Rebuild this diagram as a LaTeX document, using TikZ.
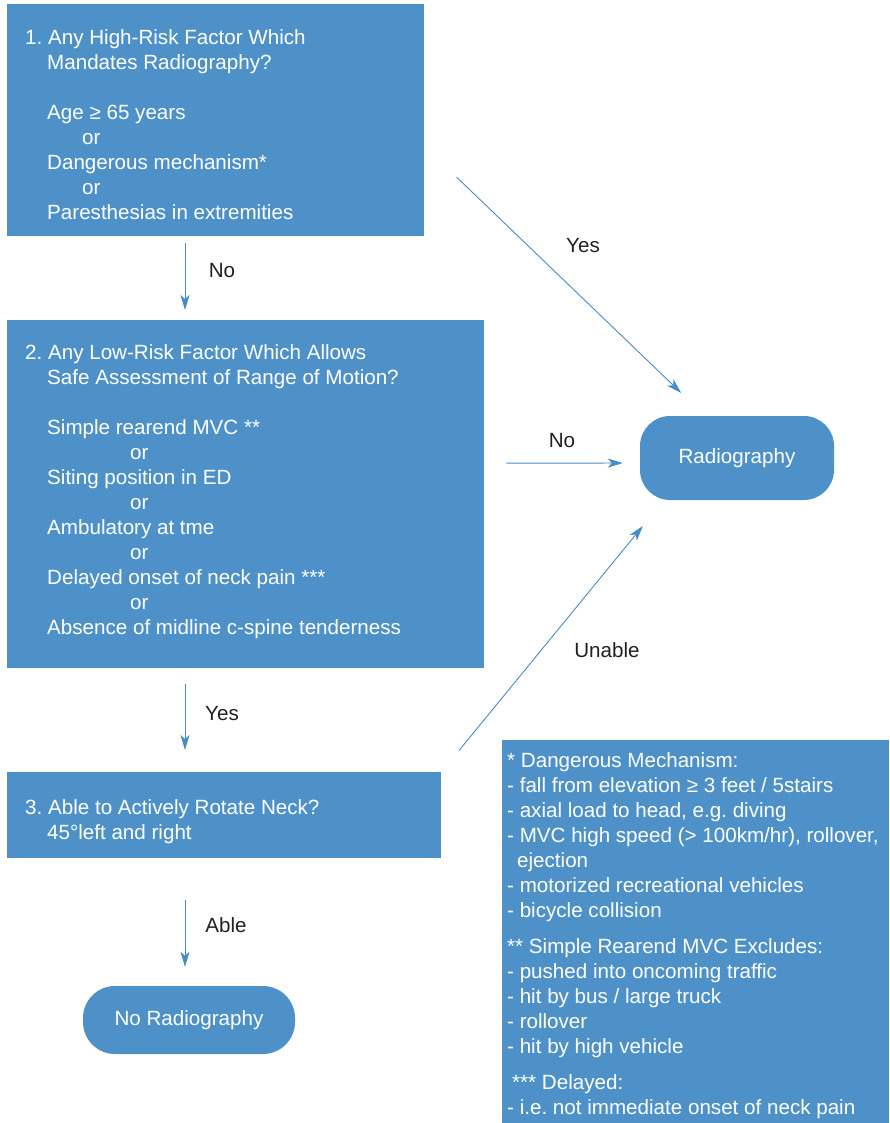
\documentclass[tikz,border=0pt]{standalone}
\usepackage{fontspec}
\setmainfont{Liberation Sans}
\usetikzlibrary{arrows.meta}
\definecolor{boxblue}{RGB}{78,145,200}
\definecolor{lineblue}{RGB}{72,140,198}
\definecolor{labelgray}{RGB}{35,31,32}
\newcommand\diagfont{\fontsize{20.6}{25}\selectfont\frenchspacing}
\begin{document}
\begin{tikzpicture}[x=1pt,y=1pt,
  panel/.style={fill=boxblue, draw=none, inner sep=0, anchor=north west},
  term/.style={fill=boxblue, draw=none, inner sep=0, text=white, font=\diagfont},
  body/.style={anchor=north west, inner sep=0, align=left, text=white, font=\diagfont},
  lbl/.style={inner sep=0, text=labelgray, font=\diagfont},
  arr/.style={draw=lineblue, line width=0.9pt, -{Stealth[length=15pt,width=9pt,inset=4pt]}}]
\useasboundingbox (0,0) rectangle (889,-1123);

% question panels
\node[panel, minimum width=417, minimum height=232] (q1) at (7,-4) {};
\node[panel, minimum width=477, minimum height=348] (q2) at (7,-320) {};
\node[panel, minimum width=434, minimum height=86] (q3) at (7,-772) {};
\node[panel, minimum width=387, minimum height=383] (notes) at (502,-740) {};

% outcomes
\node[term, rounded corners=30, minimum width=194, minimum height=84] (rad) at (737,-458) {Radiography};
\node[term, rounded corners=32, minimum width=212, minimum height=68] (norad) at (189,-1020) {No Radiography};

% panel texts
\node[body] (t1) at (25,-26.5) {\strut 1. Any High-Risk Factor Which\\
\hspace*{22pt}Mandates Radiography?\\[25pt]
\hspace*{22pt}Age ≥ 65 years\\
\hspace*{57pt}or\\
\hspace*{22pt}Dangerous mechanism*\\
\hspace*{57pt}or\\
\hspace*{22pt}Paresthesias in extremities};

\node[body] (t2) at (25,-341.5) {\strut 2. Any Low-Risk Factor Which Allows\\
\hspace*{22pt}Safe Assessment of Range of Motion?\\[25pt]
\hspace*{22pt}Simple rearend MVC **\\
\hspace*{105pt}or\\
\hspace*{22pt}Siting position in ED\\
\hspace*{105pt}or\\
\hspace*{22pt}Ambulatory at tme\\
\hspace*{105pt}or\\
\hspace*{22pt}Delayed onset of neck pain ***\\
\hspace*{105pt}or\\
\hspace*{22pt}Absence of midline c-spine tenderness};

\node[body] (t3) at (25,-796.5) {\strut 3. Able to Actively Rotate Neck?\\
\hspace*{22pt}45°left and right};

\node[body] (tn) at (507,-749.5) {\strut * Dangerous Mechanism:\\
- fall from elevation ≥ 3 feet / 5stairs\\
- axial load to head, e.g. diving\\
- MVC high speed (> 100km/hr), rollover,\\
\hspace*{10pt}ejection\\
- motorized recreational vehicles\\
- bicycle collision\\[11pt]
\mbox{}** Simple Rearend MVC Excludes:\\
- pushed into oncoming traffic\\
- hit by bus / large truck\\
- rollover\\
- hit by high vehicle\\[11pt]
\hspace*{5pt}*** Delayed:\\
- i.e. not immediate onset of neck pain};

% connectors
\coordinate (col) at (185,0);
\draw[arr, shorten <=7pt, shorten >=10pt] (q1.south -| col) -- (q2.north -| col);
\draw[arr, shorten <=16pt, shorten >=22pt] (q2.south -| col) -- (q3.north -| col);
\draw[arr, shorten <=42pt, shorten >=19pt] (q3.south -| col) -- (norad.north -| col);
\draw[arr, shorten <=44.6pt, shorten >=33pt] ([yshift=-26pt]q1.east) -- ([xshift=-32pt]rad.north);
\draw[arr, shorten <=22pt, shorten >=17pt] ([yshift=31pt]q2.east) -- ([yshift=-5pt]rad.west);
\draw[arr, shorten <=27.6pt, shorten >=33.4pt] (q3.north east) -- ([xshift=-73pt]rad.south);

% connector labels
\node[lbl] (l1) at (222,-271) {No};
\node[lbl] (l2) at (222,-714) {Yes};
\node[lbl] (l3) at (226,-925) {Able};
\node[lbl] (l4) at (583,-246) {Yes};
\node[lbl] (l5) at (562,-441) {No};
\node[lbl] (l6) at (607,-650) {Unable};
\end{tikzpicture}
\end{document}
